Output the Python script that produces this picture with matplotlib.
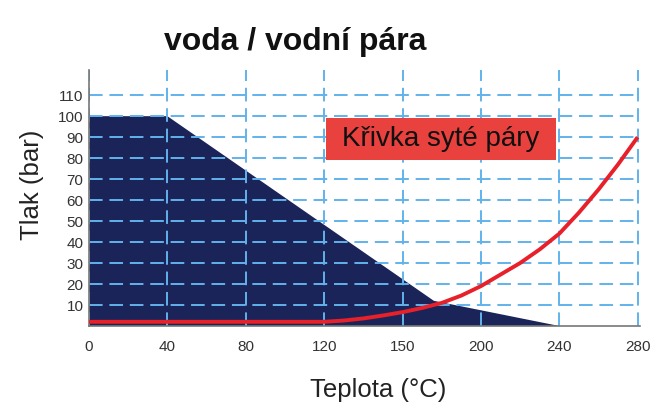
import matplotlib
matplotlib.use("Agg")
import matplotlib.pyplot as plt
from matplotlib.patches import Rectangle

plt.rcParams['font.family'] = ['Liberation Sans', 'DejaVu Sans']

# Data
x_labels = ['0', '40', '80', '120', '150', '200', '240', '280']
y_ticks = [10, 20, 30, 40, 50, 60, 70, 80, 90, 100, 110]

# water region (x in category-index units, y in bar)
region_x = [0, 1, 4.4, 6]
region_y = [100, 100, 12, 0]

# saturated steam curve
curve_x = [0, 1, 2, 3, 3.25, 3.5, 3.75, 4, 4.25, 4.5, 4.75, 5, 5.25, 5.5, 5.75, 6, 6.25, 6.5, 6.75, 7]
curve_y = [2, 2, 2, 2, 2.6, 3.6, 5, 6.6, 8.6, 11, 14.5, 19, 24.5, 30, 36.5, 44, 54, 65, 77, 90]

title = 'voda / vodní pára'
xlabel = 'Teplota (°C)'
ylabel = 'Tlak (bar)'
curve_label = 'Křivka syté páry'

fig = plt.figure(figsize=(6.53, 4.03), dpi=100)
ax = fig.add_axes([89/653, 1-326/403, 551/653, 256/403])

navy = '#1b2458'
grid_c = '#62b2ec'

# polygon
px = region_x + [region_x[-1], region_x[0]]
py = region_y + [0, 0]
ax.fill(px, py, color=navy, zorder=1, lw=0)

# grid
for i in range(len(x_labels)):
    ax.axvline(i, color=grid_c, lw=1.4, ls=(0, (7, 3.5)), zorder=2)
for v in y_ticks:
    ax.axhline(v, color=grid_c, lw=1.4, ls=(0, (7, 3.5)), zorder=2)

ax.plot(curve_x, curve_y, color='#e8202a', lw=2.8, zorder=4, solid_capstyle='butt')

ax.set_xlim(0, 7.03)
ax.set_ylim(0, 122)
ax.set_xticks(range(len(x_labels)))
ax.set_xticklabels(x_labels)
ax.set_yticks(y_ticks)
ax.set_yticklabels([str(v) for v in y_ticks])
ax.tick_params(length=0, labelsize=11, colors='#333333')
ax.tick_params(axis='x', pad=10)
ax.tick_params(axis='y', pad=4)

for s in ['top', 'right']:
    ax.spines[s].set_visible(False)
ax.spines['left'].set_color('#777777')
ax.spines['left'].set_linewidth(1.2)
ax.spines['bottom'].set_color('#777777')
ax.spines['bottom'].set_linewidth(1.2)

ax.add_patch(Rectangle((3.02, 79), 2.94, 20, fc='#e8413e', ec='none', zorder=5))
ax.text(4.49, 89, curve_label, ha='center', va='center', fontsize=20, color='#111111', zorder=6)

fig.text(295/653, 1-42/403, title, ha='center', va='center', fontsize=23, fontweight='bold', color='#111111')
fig.text(378/653, 1-390/403, xlabel, ha='center', va='center', fontsize=18.5, color='#222222')
fig.text(32/653, 1-185/403, ylabel, ha='center', va='center', fontsize=18.5, color='#222222', rotation=90)

fig.savefig('out.png', dpi=100)
